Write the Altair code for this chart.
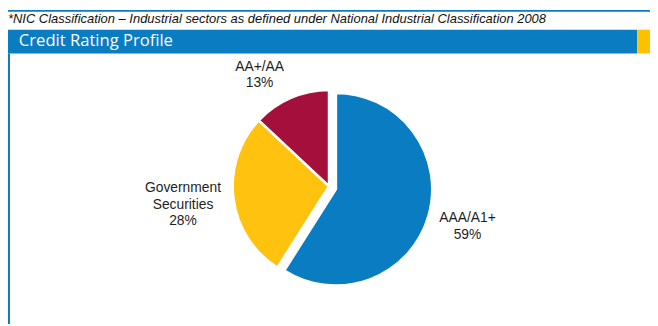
import altair as alt
import pandas as pd

# ---- data ----
categories = ["AAA/A1+", "Government Securities", "AA+/AA"]
shares = [59, 28, 13]
colors = ["#0A7CC1", "#FFC20E", "#A50F3C"]

footnote = "*NIC Classification \u2013 Industrial sectors as defined under National Industrial Classification 2008"
panel_title = "Credit Rating Profile"

# ---- styles / layout ----
label_radius = {"AAA/A1+": 146, "Government Securities": 149, "AA+/AA": 133}
label_nudge_deg = {"AAA/A1+": 0, "Government Securities": 0, "AA+/AA": -8.5}

W, H = 650, 318
CX, CY, R = 325, 178.5, 97.5
EX, EY = 7, 3          # explode offset of the first slice
LH = 16.5              # label line height
BLUE = "#0A7CC1"
ORANGE = "#FFC000"

df = pd.DataFrame({"cat": categories, "share": shares, "ord": list(range(len(categories)))})
df["label"] = [c.replace(" ", "\n") + "\n" + f"{v}%" for c, v in zip(categories, shares)]
df["nl"] = df["label"].str.count("\n")
df["lr"] = df["cat"].map(label_radius)
df["nudge"] = df["cat"].map(label_nudge_deg)

color = alt.Color("cat:N", scale=alt.Scale(domain=categories, range=colors), legend=None)
base = alt.Chart(df)

is_first = alt.datum.cat == categories[0]

pie_rest = base.mark_arc(radius=R, stroke="white", strokeWidth=2.5).encode(
    theta=alt.Theta("share:Q", stack=True),
    order=alt.Order("ord:Q"),
    color=color,
    opacity=alt.when(is_first).then(alt.value(0)).otherwise(alt.value(1)),
    x=alt.value(CX),
    y=alt.value(CY),
)

pie_explode = base.mark_arc(radius=R, stroke="white", strokeWidth=2.5).encode(
    theta=alt.Theta("share:Q", stack=True),
    order=alt.Order("ord:Q"),
    color=color,
    opacity=alt.when(is_first).then(alt.value(1)).otherwise(alt.value(0)),
    x=alt.value(CX + EX),
    y=alt.value(CY + EY),
)

labels = (
    base.transform_joinaggregate(total="sum(share)")
    .transform_window(cum="sum(share)", sort=[alt.SortField("ord")], frame=[None, 0])
    .transform_calculate(
        mid="2*PI*(datum.cum - datum.share/2)/datum.total + datum.nudge*PI/180"
    )
    .transform_calculate(
        lx=f"{CX} + datum.lr*sin(datum.mid)",
        ly=f"{CY} - datum.lr*cos(datum.mid) - datum.nl*{LH}/2",
    )
    .mark_text(
        font="Liberation Sans", fontSize=14, lineBreak="\n", lineHeight=LH,
        align="center", baseline="middle", color="#1E1E1E",
    )
    .encode(x=alt.X("lx:Q", scale=None), y=alt.Y("ly:Q", scale=None), text="label:N")
)

deco = pd.DataFrame({"k": [0]})


def rect(x, x2, y, y2, c):
    return alt.Chart(deco).mark_rect(color=c).encode(
        x=alt.value(x), x2=alt.value(x2), y=alt.value(y), y2=alt.value(y2)
    )


top_line = rect(0, W, 0, 1.8, BLUE)
left_line = rect(0, 2, 44, H, BLUE)
bar = rect(0, 637, 20, 44, BLUE)
bar_end = rect(637, W, 20, 44, ORANGE)

foot = alt.Chart(deco).mark_text(
    text=footnote, font="Liberation Sans", fontSize=13.1, fontStyle="italic",
    align="left", baseline="alphabetic", color="#111111",
).encode(x=alt.value(0), y=alt.value(12.8))

title = alt.Chart(deco).mark_text(
    text=panel_title, font="Open Sans", fontSize=16.8, align="left",
    baseline="alphabetic", color="white",
).encode(x=alt.value(11), y=alt.value(36.3))

chart = alt.layer(
    top_line, left_line, bar, bar_end, foot, title, pie_rest, pie_explode, labels
).properties(
    width=W, height=H, padding=0,
    autosize=alt.AutoSizeParams(type="fit", contains="padding"),
).configure_view(stroke=None)

chart.save("out.html", embed_options={"renderer": "svg", "actions": False})
